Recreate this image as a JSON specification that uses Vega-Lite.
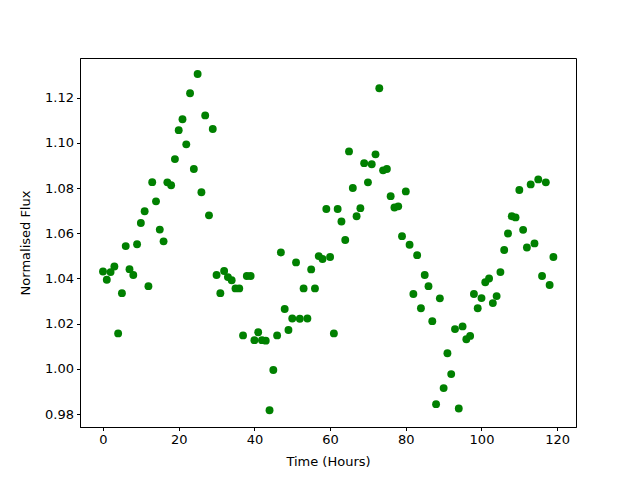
{
  "$schema": "https://vega.github.io/schema/vega-lite/v6.json",
  "width": 496,
  "height": 369,
  "autosize": {"type": "none"},
  "padding": {"left": 80, "top": 58, "right": 64, "bottom": 53},
  "background": "white",
  "config": {
    "view": {"stroke": "black", "strokeWidth": 1},
    "font": "DejaVu Sans",
    "axis": {
      "grid": false,
      "domainColor": "black",
      "tickColor": "black",
      "tickSize": 3.5,
      "labelPadding": 3,
      "labelFont": "DejaVu Sans",
      "labelFontSize": 13,
      "labelColor": "black",
      "titleFont": "DejaVu Sans",
      "titleFontSize": 13,
      "titleFontWeight": "normal",
      "titleColor": "black"
    }
  },
  "data": {
    "values": [
      {"t": 0, "flux": 1.0431}, {"t": 1, "flux": 1.0394}, {"t": 2, "flux": 1.0428}, {"t": 3, "flux": 1.0453},
      {"t": 4, "flux": 1.0157}, {"t": 5, "flux": 1.0335}, {"t": 6, "flux": 1.0543}, {"t": 7, "flux": 1.0441},
      {"t": 8, "flux": 1.0415}, {"t": 9, "flux": 1.0551}, {"t": 10, "flux": 1.0645}, {"t": 11, "flux": 1.0697},
      {"t": 12, "flux": 1.0366}, {"t": 13, "flux": 1.0826}, {"t": 14, "flux": 1.0741}, {"t": 15, "flux": 1.0616},
      {"t": 16, "flux": 1.0564}, {"t": 17, "flux": 1.0825}, {"t": 18, "flux": 1.0812}, {"t": 19, "flux": 1.0928},
      {"t": 20, "flux": 1.1056}, {"t": 21, "flux": 1.1104}, {"t": 22, "flux": 1.0993}, {"t": 23, "flux": 1.1219},
      {"t": 24, "flux": 1.0884}, {"t": 25, "flux": 1.1304}, {"t": 26, "flux": 1.0781}, {"t": 27, "flux": 1.1121},
      {"t": 28, "flux": 1.0679}, {"t": 29, "flux": 1.1061}, {"t": 30, "flux": 1.0415}, {"t": 31, "flux": 1.0335},
      {"t": 32, "flux": 1.0433}, {"t": 33, "flux": 1.0406}, {"t": 34, "flux": 1.0392}, {"t": 35, "flux": 1.0356},
      {"t": 36, "flux": 1.0356}, {"t": 37, "flux": 1.0148}, {"t": 38, "flux": 1.0411}, {"t": 39, "flux": 1.0411},
      {"t": 40, "flux": 1.0127}, {"t": 41, "flux": 1.0162}, {"t": 42, "flux": 1.0127}, {"t": 43, "flux": 1.0125},
      {"t": 44, "flux": 0.9817}, {"t": 45, "flux": 0.9995}, {"t": 46, "flux": 1.0148}, {"t": 47, "flux": 1.0515},
      {"t": 48, "flux": 1.0265}, {"t": 49, "flux": 1.0172}, {"t": 50, "flux": 1.0223}, {"t": 51, "flux": 1.0471},
      {"t": 52, "flux": 1.0222}, {"t": 53, "flux": 1.0356}, {"t": 54, "flux": 1.0223}, {"t": 55, "flux": 1.0440},
      {"t": 56, "flux": 1.0356}, {"t": 57, "flux": 1.0499}, {"t": 58, "flux": 1.0486}, {"t": 59, "flux": 1.0707},
      {"t": 60, "flux": 1.0495}, {"t": 61, "flux": 1.0157}, {"t": 62, "flux": 1.0707}, {"t": 63, "flux": 1.0652},
      {"t": 64, "flux": 1.0570}, {"t": 65, "flux": 1.0962}, {"t": 66, "flux": 1.0800}, {"t": 67, "flux": 1.0675},
      {"t": 68, "flux": 1.0711}, {"t": 69, "flux": 1.0910}, {"t": 70, "flux": 1.0825}, {"t": 71, "flux": 1.0905},
      {"t": 72, "flux": 1.0949}, {"t": 73, "flux": 1.1241}, {"t": 74, "flux": 1.0878}, {"t": 75, "flux": 1.0884},
      {"t": 76, "flux": 1.0764}, {"t": 77, "flux": 1.0714}, {"t": 78, "flux": 1.0719}, {"t": 79, "flux": 1.0587},
      {"t": 80, "flux": 1.0785}, {"t": 81, "flux": 1.0549}, {"t": 82, "flux": 1.0331}, {"t": 83, "flux": 1.0503},
      {"t": 84, "flux": 1.0268}, {"t": 85, "flux": 1.0415}, {"t": 86, "flux": 1.0366}, {"t": 87, "flux": 1.0211},
      {"t": 88, "flux": 0.9844}, {"t": 89, "flux": 1.0312}, {"t": 90, "flux": 0.9915}, {"t": 91, "flux": 1.0069},
      {"t": 92, "flux": 0.9977}, {"t": 93, "flux": 1.0176}, {"t": 94, "flux": 0.9825}, {"t": 95, "flux": 1.0188},
      {"t": 96, "flux": 1.0131}, {"t": 97, "flux": 1.0146}, {"t": 98, "flux": 1.0331}, {"t": 99, "flux": 1.0268},
      {"t": 100, "flux": 1.0313}, {"t": 101, "flux": 1.0383}, {"t": 102, "flux": 1.0400}, {"t": 103, "flux": 1.0291},
      {"t": 104, "flux": 1.0322}, {"t": 105, "flux": 1.0428}, {"t": 106, "flux": 1.0526}, {"t": 107, "flux": 1.0599},
      {"t": 108, "flux": 1.0675}, {"t": 109, "flux": 1.0670}, {"t": 110, "flux": 1.0791}, {"t": 111, "flux": 1.0615},
      {"t": 112, "flux": 1.0537}, {"t": 113, "flux": 1.0816}, {"t": 114, "flux": 1.0555}, {"t": 115, "flux": 1.0838},
      {"t": 116, "flux": 1.0411}, {"t": 117, "flux": 1.0825}, {"t": 118, "flux": 1.0371}, {"t": 119, "flux": 1.0495}
    ]
  },
  "mark": {"type": "point", "filled": true, "shape": "circle", "size": 62, "color": "#008000", "opacity": 1},
  "encoding": {
    "x": {
      "field": "t",
      "type": "quantitative",
      "scale": {"domain": [-6.08, 124.97], "nice": false, "zero": false},
      "axis": {"values": [0, 20, 40, 60, 80, 100, 120], "title": "Time (Hours)", "titlePadding": 9}
    },
    "y": {
      "field": "flux",
      "type": "quantitative",
      "scale": {"domain": [0.9743, 1.1375], "nice": false, "zero": false},
      "axis": {"values": [0.98, 1.0, 1.02, 1.04, 1.06, 1.08, 1.1, 1.12], "format": ".2f", "title": "Normalised Flux", "titlePadding": 12}
    }
  }
}
